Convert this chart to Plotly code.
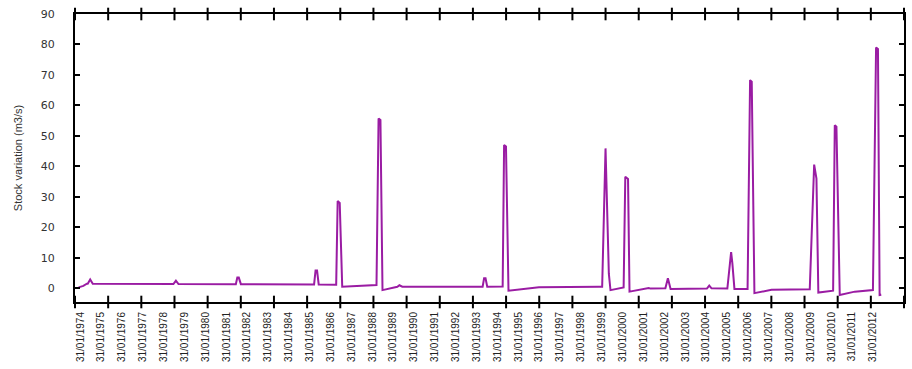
import pandas as pd
import plotly.graph_objects as go

# Monthly stock variation series (m3/s), vertices of the hydrograph
dates = [
    "1974-01-01", "1974-03-25", "1974-05-26", "1974-06-10", "1974-07-23", "1974-09-06",
    "1978-07-19", "1978-09-01", "1978-10-16",
    "1981-07-16", "1981-08-11", "1981-09-06", "1981-10-12",
    "1985-04-16", "1985-05-12", "1985-06-07", "1985-07-06",
    "1986-05-08", "1986-06-03", "1986-07-09", "1986-08-22",
    "1988-04-13", "1988-05-19", "1988-06-21", "1988-07-27",
    "1989-04-13", "1989-05-19", "1989-07-09",
    "1993-04-20", "1993-05-15", "1993-06-10", "1993-07-05", "1993-08-04",
    "1994-05-01", "1994-05-26", "1994-06-28", "1994-08-11",
    "1996-01-26", "1998-12-09", "1999-02-06", "1999-04-06", "1999-06-03", "1999-07-02",
    "2000-02-17", "2000-03-17", "2000-05-04", "2000-05-30",
    "2001-04-02", "2001-05-01", "2001-06-03",
    "2002-02-17", "2002-04-02", "2002-05-19",
    "2004-02-14", "2004-03-26", "2004-05-05",
    "2005-02-06", "2005-04-13", "2005-05-05", "2005-06-10",
    "2006-01-26", "2006-03-11", "2006-04-09", "2006-05-26",
    "2007-03-21", "2009-01-19", "2009-04-06", "2009-05-16", "2009-06-18",
    "2010-03-04", "2010-04-02", "2010-05-01", "2010-06-28",
    "2011-03-18", "2012-01-30", "2012-03-25", "2012-04-27", "2012-05-26", "2012-06-24",
]
stock_variation = [
    0.3, 0.8, 1.5, 1.5, 2.9, 1.5,
    1.4, 2.5, 1.4,
    1.35, 3.5, 3.5, 1.35,
    1.25, 5.8, 5.8, 1.25,
    1.2, 28.6, 28.0, 0.5,
    1.1, 55.7, 55.2, -0.6,
    0.5, 1.0, 0.5,
    0.5, 0.5, 3.3, 3.3, 0.5,
    0.6, 47.0, 46.5, -0.8,
    0.3, 0.5, 0.5, 45.9, 4.8, -0.6,
    0.3, 36.6, 35.9, -1.1,
    -0.2, 0.1, -0.1,
    0.0, 3.3, -0.2,
    -0.1, 0.9, 0.0,
    -0.1, 11.9, 8.2, -0.2,
    -0.2, 68.3, 67.8, -1.6,
    -0.5, -0.3, 40.6, 36.0, -1.4,
    -0.8, 53.5, 53.0, -2.2,
    -1.1, -0.6, 79.0, 78.5, -2.2, -2.1,
]

label_years = list(range(1974, 2013))
tick_dates = [f"{y}-01-31" for y in label_years]
tick_text = [f"31/01/{y}" for y in label_years]
y_ticks = [0, 10, 20, 30, 40, 50, 60, 70, 80, 90]

x_start, x_end = "1973-10-30", "2013-07-27"
y_min, y_max = -4.5, 90
# evenly spaced tick marks along the bottom/top frame (25 intervals)
frame_divisions = 25
frame_positions = pd.date_range(x_start, x_end, periods=frame_divisions + 1)

narrow = "Liberation Sans Narrow, Arial Narrow, Liberation Sans, sans-serif"

fig = go.Figure()
fig.add_trace(go.Scatter(
    x=dates, y=stock_variation, mode="lines",
    line=dict(color="#9a1ca3", width=2),
    showlegend=False,
))

# frame tick marks drawn as short vertical line markers on both edges
for edge in (y_min, y_max):
    fig.add_trace(go.Scatter(
        x=list(frame_positions), y=[edge] * len(frame_positions),
        mode="markers", cliponaxis=False,
        marker=dict(symbol="line-ns", size=9, line=dict(color="black", width=2)),
        showlegend=False, hoverinfo="skip",
    ))

fig.update_layout(
    width=912, height=369,
    margin=dict(l=75, r=6, t=14, b=67),
    paper_bgcolor="white", plot_bgcolor="white",
    font=dict(family=narrow, color="#222"),
    xaxis=dict(
        type="date", range=[x_start, x_end],
        tickmode="array", tickvals=tick_dates, ticktext=tick_text,
        tickangle=-90, ticks="", ticklabelstandoff=4,
        tickfont=dict(size=10, family=narrow),
        showgrid=False, zeroline=False,
        showline=True, linecolor="black", linewidth=2, mirror=True,
    ),
    yaxis=dict(
        range=[y_min, y_max], tickmode="array", tickvals=y_ticks,
        ticks="inside", ticklen=5, tickwidth=2, tickcolor="black",
        ticklabelstandoff=16,
        tickfont=dict(size=11, family="DejaVu Sans", color="#333"),
        showgrid=False, zeroline=False,
        showline=True, linecolor="black", linewidth=2, mirror="ticks",
        title=dict(text="Stock variation (m3/s)", standoff=16,
                   font=dict(size=11, family=narrow, color="#333")),
    ),
)

fig.write_html("out.html")
